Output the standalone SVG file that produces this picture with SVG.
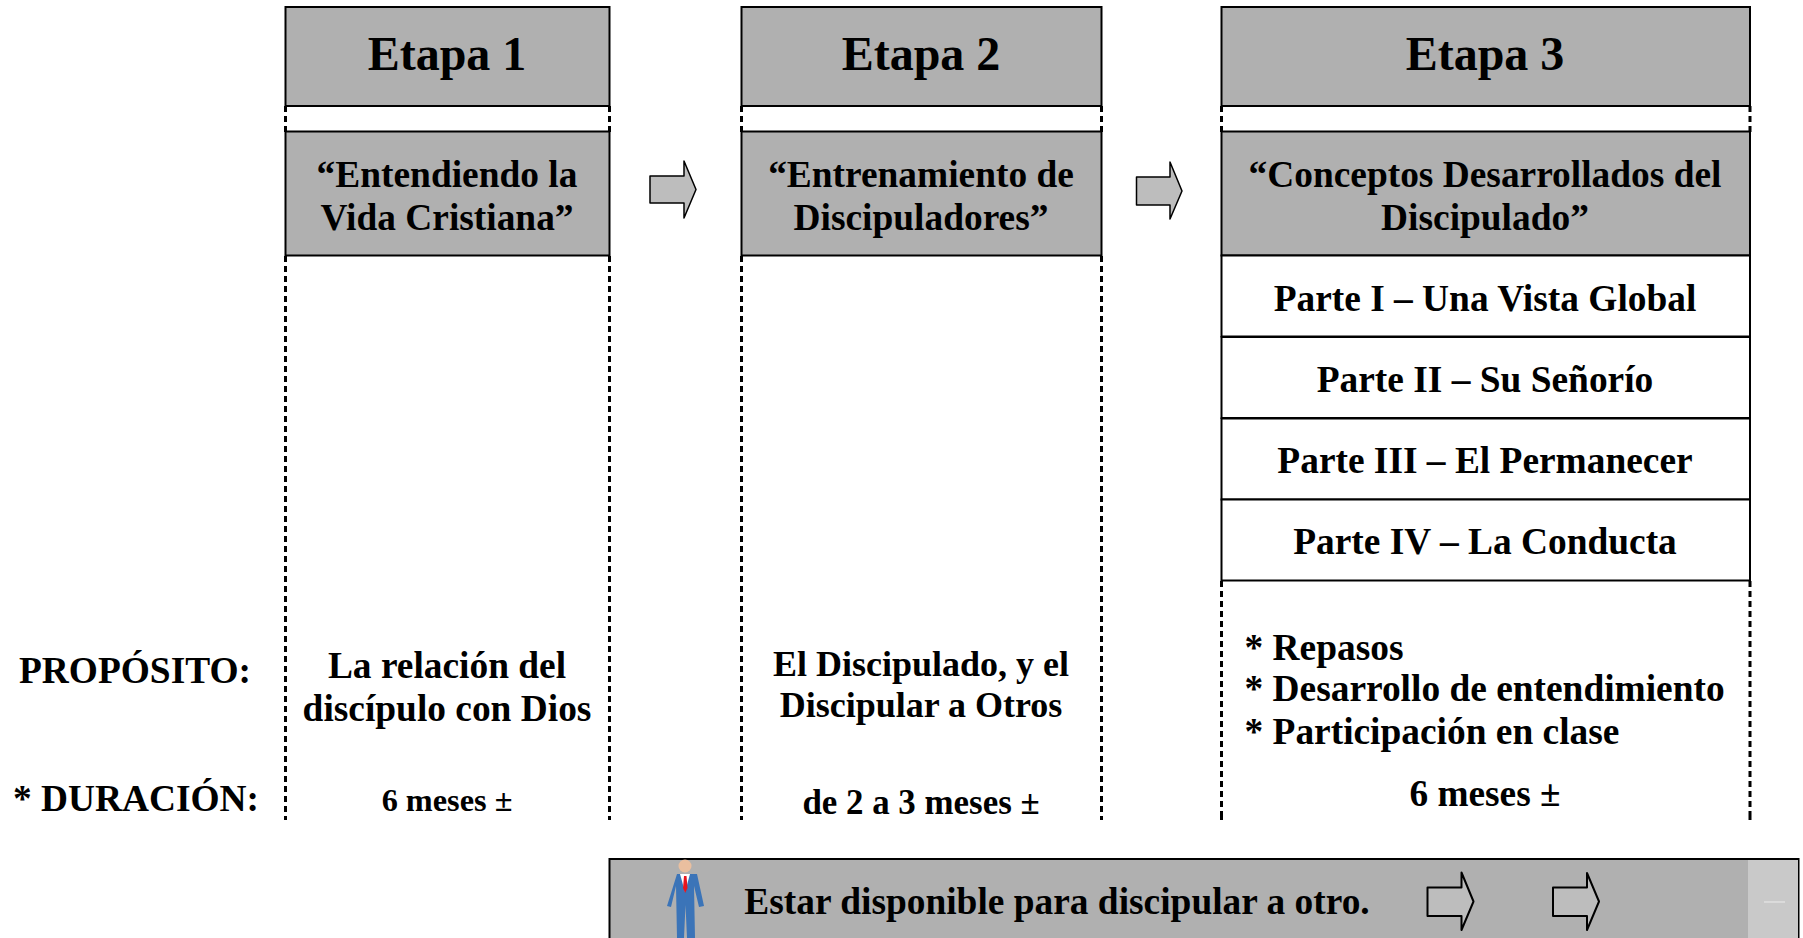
<svg xmlns="http://www.w3.org/2000/svg" width="1803" height="938" viewBox="0 0 1803 938">
<style>
text{font-family:"Liberation Serif","Times New Roman",serif;font-weight:700;fill:#000;text-anchor:middle}
.h{font-size:48px}.s{font-size:37.400px}.l{text-anchor:start;font-size:37.400px}
.b{fill:#b0b0b0;stroke:#000;stroke-width:2}
.w{fill:#fff;stroke:#000;stroke-width:2}
.d{fill:none;stroke:#000;stroke-width:3;stroke-dasharray:6 4}
.a{fill:#bdbdbd;stroke:#000;stroke-width:2;stroke-linejoin:round}
.t{stroke-width:1.500}
</style>
<rect width="1803" height="938" fill="#fff"/>
<g id="connectors">
<path class="d" d="M285.500 106V132M609.500 106V132M285.500 256V820M609.500 256V820M741.500 106V132M1101.500 106V132M741.500 256V820M1101.500 256V820M1221.500 106V132M1750 106V132M1221.500 581V820M1750 581V820M1221.500 816V820M1750 816V820"/>
<path id="arrow1" class="a t" d="M650 176H684V161L696 189.500L684 218V203H650Z"/>
<path id="arrow2" class="a t" d="M1136.500 177H1170V162L1182 191L1170 219V205H1136.500Z"/>
</g>
<g id="etapa1">
<rect class="b" x="285.500" y="7" width="324" height="99"/><text class="h" x="447" y="70">Etapa 1</text>
<rect class="b" x="285.500" y="131.500" width="324" height="124"/><text class="s" x="447" y="187">“Entendiendo la</text><text class="s" x="447" y="230">Vida Cristiana”</text>
</g>
<g id="etapa2">
<rect class="b" x="741.500" y="7" width="360" height="99"/><text class="h" x="921" y="70">Etapa 2</text>
<rect class="b" x="741.500" y="131.500" width="360" height="124"/><text class="s" x="921" y="187">“Entrenamiento de</text><text class="s" x="921" y="230">Discipuladores”</text>
</g>
<g id="etapa3">
<rect class="b" x="1221.500" y="7" width="528.500" height="99"/><text class="h" x="1485" y="70">Etapa 3</text>
<rect class="b" x="1221.500" y="131.500" width="528.500" height="124"/><text class="s" x="1485" y="187">“Conceptos Desarrollados del</text><text class="s" x="1485" y="230">Discipulado”</text>
</g>
<g id="parte1"><rect class="w" x="1221.500" y="255.500" width="528.500" height="81"/><text class="s" x="1485" y="311">Parte I – Una Vista Global</text></g>
<g id="parte2"><rect class="w" x="1221.500" y="337" width="528.500" height="81"/><text class="s" x="1485" y="392">Parte II – Su Señorío</text></g>
<g id="parte3"><rect class="w" x="1221.500" y="418.500" width="528.500" height="81"/><text class="s" x="1485" y="473">Parte III – El Permanecer</text></g>
<g id="parte4"><rect class="w" x="1221.500" y="499.500" width="528.500" height="81"/><text class="s" x="1485" y="554">Parte IV – La Conducta</text></g>
<g id="labels">
<text class="s" x="135" y="683">PROPÓSITO:</text>
<text class="s" x="136" y="811">* DURACIÓN:</text>
<text class="s" x="447" y="678">La relación del</text><text class="s" x="447" y="721">discípulo con Dios</text>
<text x="921" y="676" style="font-size:36px">El Discipulado, y el</text><text x="921" y="717" style="font-size:36px">Discipular a Otros</text>
<text class="l" x="1244.500" y="660">* Repasos</text>
<text class="l" x="1244.500" y="701">* Desarrollo de entendimiento</text>
<text class="l" x="1244.500" y="744">* Participación en clase</text>
<text x="447" y="811" style="font-size:32.300px">6 meses ±</text>
<text x="921" y="814" style="font-size:34.900px">de 2 a 3 meses ±</text>
<text x="1485" y="806" style="font-size:37.300px">6 meses ±</text>
</g>
<g id="disponible">
<rect x="609.500" y="859" width="1189" height="90" fill="#b0b0b0" stroke="#000" stroke-width="2"/>
<rect x="1748" y="860" width="50" height="78" fill="#c9c9c9"/>
<path d="M1764 902H1785" stroke="#ececec" stroke-width="1"/>
<g id="persona">
<path d="M677 874H693L697 874L704 906L699 907L694 886L695 938H687L685.500 905L684 938H677L676 886L671 907L667 906Z" fill="#3b74b8"/>
<path d="M680 874H690L685 892Z" fill="#fff"/>
<path d="M684 876H686.500L687.500 888L685.200 893L683 888Z" fill="#e8141c"/>
<circle cx="685" cy="866" r="6.500" fill="#eabf9f"/>
</g>
<text class="s" x="1057" y="914">Estar disponible para discipular a otro.</text>
<path class="a" d="M1427.500 887.500H1461.500V872.500L1473.500 901.500L1461.500 930V916H1427.500Z"/>
<path class="a" d="M1553 887.500H1587V873L1599 901.500L1587 930V916H1553Z"/>
</g>
</svg>
